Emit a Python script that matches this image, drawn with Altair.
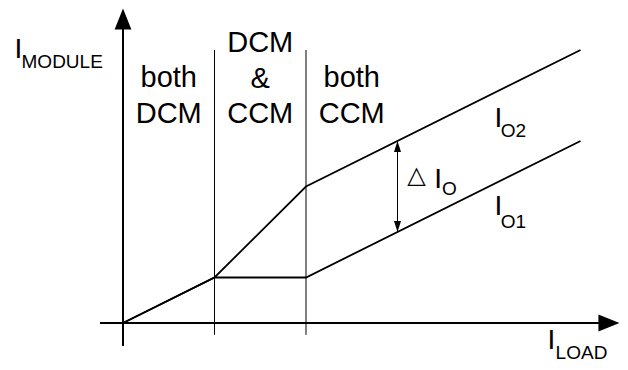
import altair as alt
import pandas as pd

# ---- data (logical units: 1 x-unit = one operating region, y in relative current units)
load = [0, 1, 2, 5]
io2 = [0, 1, 3, 6]
io1 = [0, 1, 1, 4]
series_names = ["IO2", "IO1"]

region_bounds = [1, 2]
region_top = 6.0
region_bottom = -0.26

region_text = ["both", "DCM", "DCM", "&", "CCM", "both", "CCM"]
region_text_x = [0.5, 0.5, 1.5, 1.5, 1.5, 2.5, 2.5]
region_text_y = [5.18, 4.40, 5.96, 5.17, 4.40, 5.18, 4.40]

delta_x = 3
delta_lo = 2
delta_hi = 4

big_text = ["I", "I", "I", "I", "I"]
big_x = [-1.187, 4.059, 4.059, 3.403, 4.638]
big_y = [5.824, 4.308, 2.374, 2.967, -0.571]

sub_text = ["MODULE", "O2", "O1", "O", "LOAD"]
sub_x = [-1.109, 4.128, 4.128, 3.486, 4.728]
sub_y = [5.604, 4.088, 2.088, 2.813, -0.791]

tri_text = ["△"]
tri_x = [3.208]
tri_y = [3.077]

XMIN, XMAX = -1.25683, 5.43169
YMIN, YMAX = -0.85714, 6.92308

xs = alt.Scale(domain=[XMIN, XMAX], nice=False, zero=False)
ys = alt.Scale(domain=[YMIN, YMAX], nice=False, zero=False)

def X(f):
    return alt.X(f, type="quantitative", scale=xs, axis=None)

def Y(f):
    return alt.Y(f, type="quantitative", scale=ys, axis=None)

# curves
rows = []
for name, vals in zip(series_names, [io2, io1]):
    for i, (a, b) in enumerate(zip(load, vals)):
        rows.append({"load": a, "module": b, "series": name, "o": i})
curves = alt.Chart(pd.DataFrame(rows)).mark_line(color="black", strokeWidth=1.8).encode(
    x=X("load"), y=Y("module"), detail="series:N", order="o:Q")

# axes
axes_df = pd.DataFrame({
    "x": [-0.251, 0.0], "x2": [5.30, 0.0],
    "y": [0.0, -0.505], "y2": [0.0, 6.65]})
axes = alt.Chart(axes_df).mark_rule(color="black", strokeWidth=2).encode(
    x=X("x"), x2="x2", y=Y("y"), y2="y2")

# arrow heads for axes
ah_up = alt.Chart(pd.DataFrame({"x": [0.0], "y": [6.681]})).mark_point(
    shape="M0,-1L0.8,1L-0.8,1Z", size=441, filled=True, color="black",
    opacity=1, strokeWidth=0).encode(x=X("x"), y=Y("y"))
ah_right = alt.Chart(pd.DataFrame({"x": [5.311], "y": [0.0]})).mark_point(
    shape="M1,0L-1,-0.8L-1,0.8Z", size=441, filled=True, color="black",
    opacity=1, strokeWidth=0).encode(x=X("x"), y=Y("y"))

# region dividers
div_df = pd.DataFrame({"x": region_bounds, "y": [region_bottom] * 2, "y2": [region_top] * 2})
dividers = alt.Chart(div_df).mark_rule(color="black", strokeWidth=1).encode(
    x=X("x"), y=Y("y"), y2="y2")

# delta arrow
d_line = alt.Chart(pd.DataFrame({"x": [delta_x], "y": [delta_lo], "y2": [delta_hi]})).mark_rule(
    color="black", strokeWidth=1).encode(x=X("x"), y=Y("y"), y2="y2")
d_up = alt.Chart(pd.DataFrame({"x": [delta_x], "y": [delta_hi - 5.5 / 45.5]})).mark_point(
    shape="M0,-1L0.64,1L-0.64,1Z", size=121, filled=True, color="black",
    opacity=1, strokeWidth=0).encode(x=X("x"), y=Y("y"))
d_dn = alt.Chart(pd.DataFrame({"x": [delta_x], "y": [delta_lo + 5.5 / 45.5]})).mark_point(
    shape="M0,1L0.64,-1L-0.64,-1Z", size=121, filled=True, color="black",
    opacity=1, strokeWidth=0).encode(x=X("x"), y=Y("y"))

# texts
reg = alt.Chart(pd.DataFrame({"t": region_text, "x": region_text_x, "y": region_text_y})).mark_text(
    font="Liberation Sans", fontSize=29, align="center", baseline="alphabetic", color="black").encode(
    x=X("x"), y=Y("y"), text="t:N")
big = alt.Chart(pd.DataFrame({"t": big_text, "x": big_x, "y": big_y})).mark_text(
    font="Liberation Sans", fontSize=28, align="left", baseline="alphabetic", color="black").encode(
    x=X("x"), y=Y("y"), text="t:N")
sub = alt.Chart(pd.DataFrame({"t": sub_text, "x": sub_x, "y": sub_y})).mark_text(
    font="Liberation Sans", fontSize=19, align="left", baseline="alphabetic", color="black").encode(
    x=X("x"), y=Y("y"), text="t:N")
tri = alt.Chart(pd.DataFrame({"t": tri_text, "x": tri_x, "y": tri_y})).mark_text(
    font="DejaVu Sans", fontSize=24, align="center", baseline="alphabetic", color="black").encode(
    x=X("x"), y=Y("y"), text="t:N")

chart = alt.layer(
    dividers, curves, axes, ah_up, ah_right, d_line, d_up, d_dn, reg, big, sub, tri
).properties(
    width=612, height=354, padding=0, autosize=alt.AutoSizeParams(type="none"),
    background="white"
).configure_view(stroke=None)

chart.save("out.html", embed_options={"renderer": "svg", "actions": False})
